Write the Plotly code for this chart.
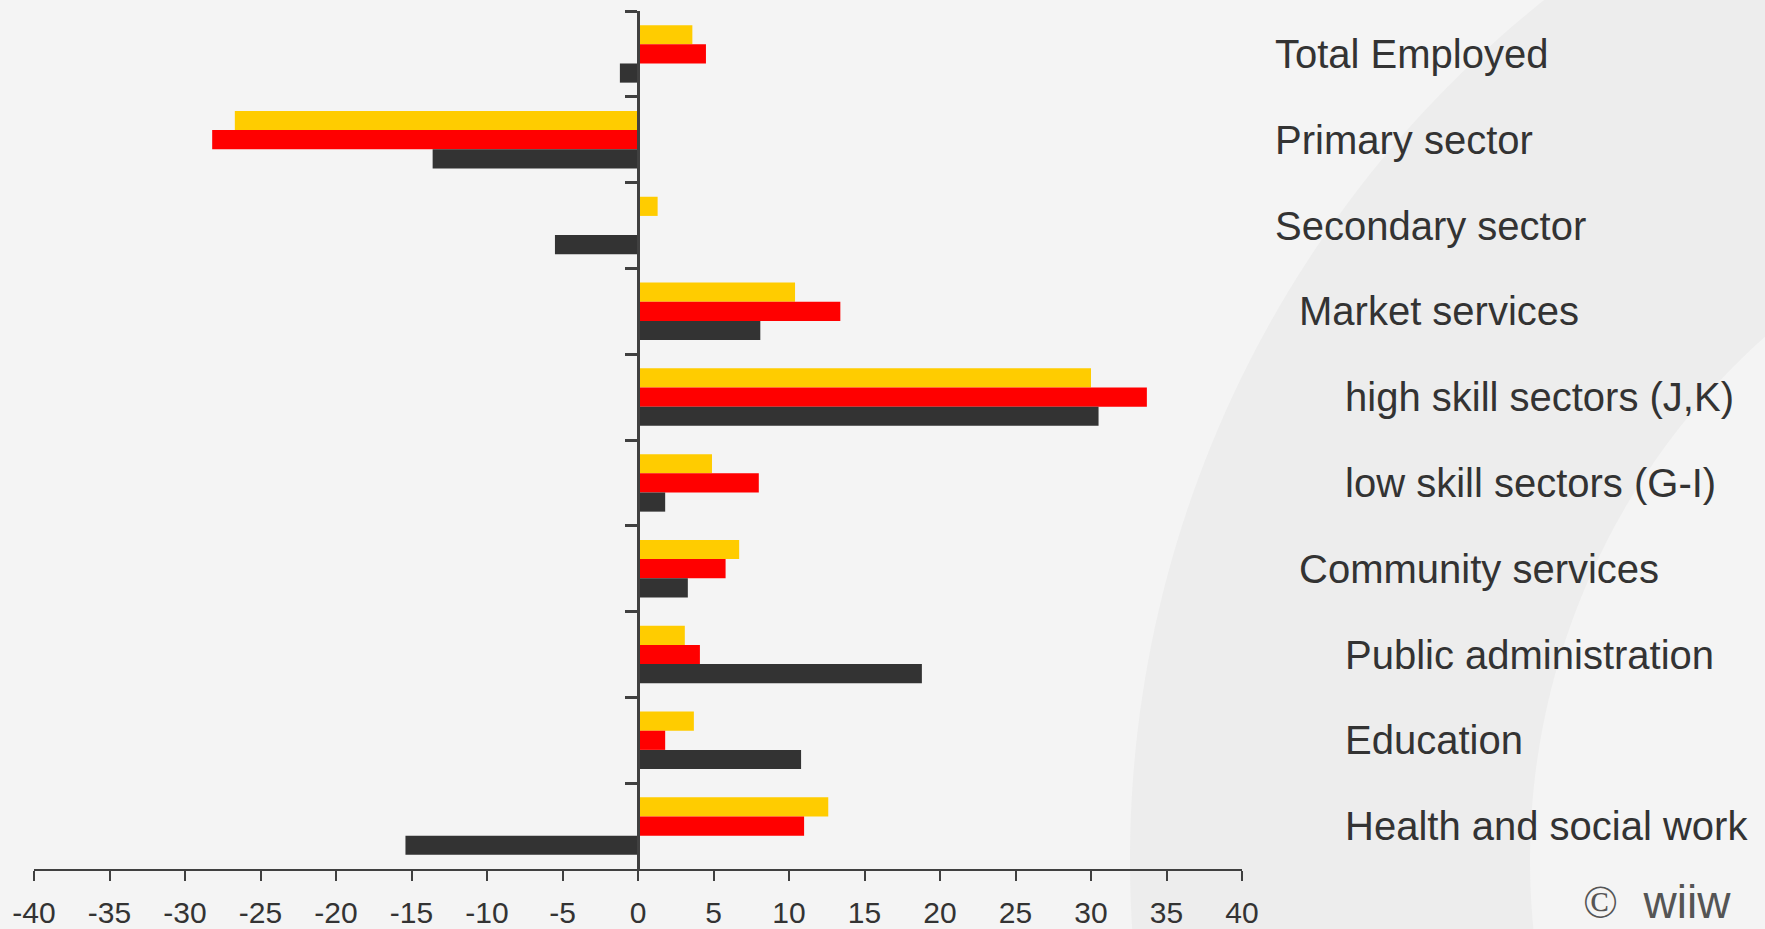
import numpy as np
import plotly.graph_objects as go

# ---- data ----
categories = ["Total Employed", "Primary sector", "Secondary sector", "Market services",
              "high skill sectors (J,K)", "low skill sectors (G-I)", "Community services",
              "Public administration", "Education", "Health and social work"]
indent_level = [0, 0, 0, 1, 2, 2, 1, 2, 2, 2]
series_yellow = [3.6, -26.7, 1.3, 10.4, 30.0, 4.9, 6.7, 3.1, 3.7, 12.6]
series_red = [4.5, -28.2, 0.0, 13.4, 33.7, 8.0, 5.8, 4.1, 1.8, 11.0]
series_dark = [-1.2, -13.6, -5.5, 8.1, 30.5, 1.8, 3.3, 18.8, 10.8, -15.4]
x_ticks = list(range(-40, 41, 5))

W, H = 1765, 929
L, R, T, B = 34, 523, 11, 60
PW, PH = W - L - R, H - T - B


def px_to_paper(px, py):
    return (px - L) / PW, (H - B - py) / PH


fig = go.Figure()
for name, vals, col in [("Series 1", series_yellow, "#FFCC00"),
                        ("Series 2", series_red, "#FF0000"),
                        ("Series 3", series_dark, "#333333")]:
    fig.add_trace(go.Bar(x=vals, y=categories, orientation="h", name=name,
                         marker=dict(color=col, line=dict(width=0)), showlegend=False,
                         hoverinfo="x+y"))

shapes = []
# soft white glow at top
for k in range(1, 9):
    y0 = px_to_paper(0, 0)[1]
    y1 = px_to_paper(0, k * 22)[1]
    shapes.append(dict(type="rect", xref="paper", yref="paper",
                       x0=px_to_paper(0, 0)[0], x1=px_to_paper(W, 0)[0], y0=y1, y1=y0,
                       fillcolor="white", opacity=0.06, line=dict(width=0), layer="below"))
# decorative crescent band
cx, cy, r_out, r_in = 2230, 860, 1100, 700
t = np.linspace(np.pi * 0.5, np.pi * 1.5, 200)
outer = [(cx + r_out * np.cos(a), cy + r_out * np.sin(a)) for a in t]
inner = [(cx + r_in * np.cos(a), cy + r_in * np.sin(a)) for a in t[::-1]]
pts = [px_to_paper(x, y) for x, y in outer + inner]
path = "M " + " L ".join(f"{x:.5f},{y:.5f}" for x, y in pts) + " Z"
shapes.append(dict(type="path", xref="paper", yref="paper", path=path,
                   fillcolor="#ededed", line=dict(width=0), layer="below"))

annotations = []
indent_px = {0: 1273, 1: 1297, 2: 1343}
for cat, lev in zip(categories, indent_level):
    annotations.append(dict(x=px_to_paper(indent_px[lev], 0)[0], xref="paper", y=cat, yref="y",
                            text=cat, showarrow=False, xanchor="left", yanchor="middle",
                            font=dict(family="Liberation Sans, Arial", size=40, color="#333333")))
cx_, cy_ = px_to_paper(1733, 902)
annotations.append(dict(x=cx_, y=cy_, xref="paper", yref="paper",
                        text="<span style='font-family:Liberation Serif'>©</span>  wiiw",
                        showarrow=False, xanchor="right", yanchor="middle",
                        font=dict(family="Liberation Sans, Arial", size=46, color="#555555")))

fig.update_layout(
    width=W, height=H,
    margin=dict(l=L, r=R, t=T, b=B, pad=0, autoexpand=False),
    paper_bgcolor="#f4f4f4", plot_bgcolor="rgba(0,0,0,0)",
    barmode="group", bargap=0.33, bargroupgap=0,
    shapes=shapes, annotations=annotations,
    xaxis=dict(range=[-40, 40], tickmode="array", tickvals=x_ticks,
               ticktext=[str(v) for v in x_ticks], showgrid=False, zeroline=False,
               automargin=False,
               showline=True, linecolor="#404040", linewidth=2,
               ticks="outside", ticklen=10, tickwidth=2, tickcolor="#404040",
               ticklabelstandoff=6,
               tickfont=dict(family="Liberation Sans, Arial", size=30, color="#333333")),
    yaxis=dict(type="category", categoryorder="array", categoryarray=categories,
               autorange="reversed", showticklabels=False, showgrid=False, automargin=False,
               anchor="free", position=0.5, showline=True, linecolor="#404040", linewidth=3,
               ticks="outside", tickson="boundaries", ticklen=12, tickwidth=3,
               tickcolor="#404040"),
)

fig.write_html("out.html", config={"displayModeBar": False},
               post_script="document.body.style.margin='0';document.body.style.overflow='hidden';")
